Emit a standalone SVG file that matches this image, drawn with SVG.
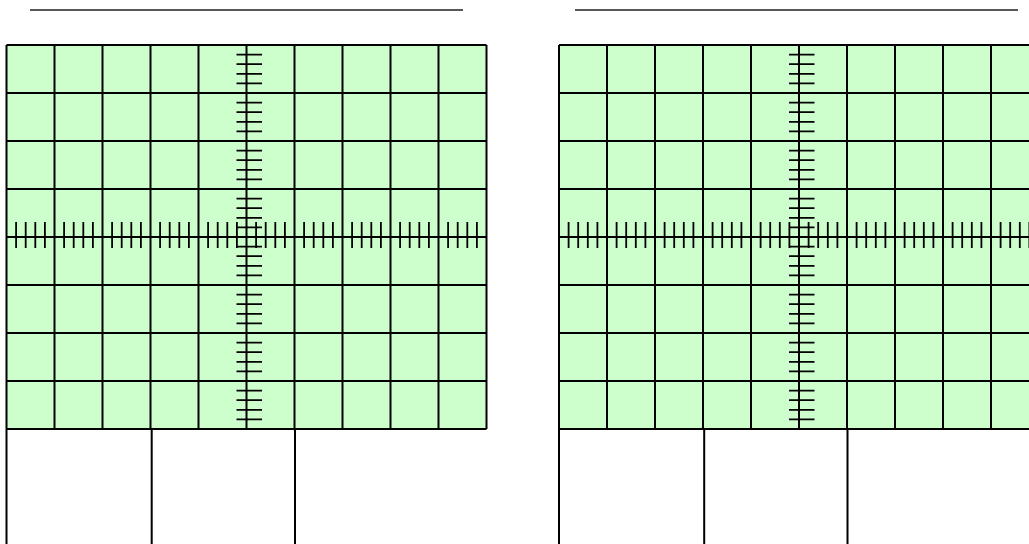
<svg xmlns="http://www.w3.org/2000/svg" xmlns:xlink="http://www.w3.org/1999/xlink" width="1029" height="544" viewBox="0 0 1029 544">
<style>
.bg{fill:#CCFFCC;stroke:none}
.grid{fill:none;stroke:#000;stroke-width:2}
.tick{fill:none;stroke:#000;stroke-width:1.8}
.title{fill:none;stroke:#222;stroke-width:1.6}
.table{fill:none;stroke:#000;stroke-width:2}
</style>
<defs>
<g id="scope">
<rect class="bg" x="6.5" y="45" width="480" height="384"/>
<path class="grid" d="M6.5 45V429M54.5 45V429M102.5 45V429M150.5 45V429M198.5 45V429M246.5 45V429M294.5 45V429M342.5 45V429M390.5 45V429M438.5 45V429M486.5 45V429M6.5 45H486.5M6.5 93H486.5M6.5 141H486.5M6.5 189H486.5M6.5 237H486.5M6.5 285H486.5M6.5 333H486.5M6.5 381H486.5M6.5 429H486.5"/>
<path class="tick" d="M236.5 45h25.5M236.5 54.6h25.5M236.5 64.2h25.5M236.5 73.8h25.5M236.5 83.4h25.5M236.5 102.6h25.5M236.5 112.2h25.5M236.5 121.8h25.5M236.5 131.4h25.5M236.5 150.6h25.5M236.5 160.2h25.5M236.5 169.8h25.5M236.5 179.4h25.5M236.5 198.6h25.5M236.5 208.2h25.5M236.5 217.8h25.5M236.5 227.4h25.5M236.5 246.6h25.5M236.5 256.2h25.5M236.5 265.8h25.5M236.5 275.4h25.5M236.5 294.6h25.5M236.5 304.2h25.5M236.5 313.8h25.5M236.5 323.4h25.5M236.5 342.6h25.5M236.5 352.2h25.5M236.5 361.8h25.5M236.5 371.4h25.5M236.5 390.6h25.5M236.5 400.2h25.5M236.5 409.8h25.5M236.5 419.4h25.5"/>
<path class="tick" d="M16.1 222v26M25.7 222v26M35.3 222v26M44.9 222v26M64.1 222v26M73.7 222v26M83.3 222v26M92.9 222v26M112.1 222v26M121.7 222v26M131.3 222v26M140.9 222v26M160.1 222v26M169.7 222v26M179.3 222v26M188.9 222v26M208.1 222v26M217.7 222v26M227.3 222v26M236.9 222v26M256.1 222v26M265.7 222v26M275.3 222v26M284.9 222v26M304.1 222v26M313.7 222v26M323.3 222v26M332.9 222v26M352.1 222v26M361.7 222v26M371.3 222v26M380.9 222v26M400.1 222v26M409.7 222v26M419.3 222v26M428.9 222v26M448.1 222v26M457.7 222v26M467.3 222v26M476.9 222v26"/>
<path class="table" d="M6.5 429V544M151.7 429V544M295 429V544"/>
</g>
</defs>
<g id="title-lines">
<path class="title" d="M30 10H463M575 10H1018"/>
</g>
<g id="scope-left">
<use xlink:href="#scope" href="#scope"/>
</g>
<g id="scope-right">
<use xlink:href="#scope" href="#scope" transform="translate(552.5 0)"/>
</g>
</svg>
